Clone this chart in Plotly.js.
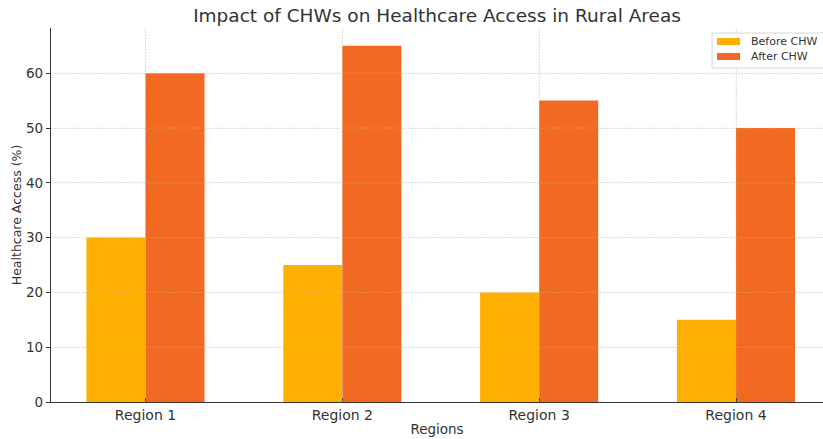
<!DOCTYPE html>
<html>
<head>
<meta charset="utf-8">
<script src="https://cdn.plot.ly/plotly-3.0.1.min.js"></script>
<style>
  html, body { margin: 0; padding: 0; background: #fff; }
  #chart { width: 823px; height: 439px; }
</style>
</head>
<body>
<div id="chart"></div>
<script>
// Healthcare access before and after Community Health Workers, by region
const regions = ["Region 1", "Region 2", "Region 3", "Region 4"];
const beforeCHW = [30, 25, 20, 15];
const afterCHW = [60, 65, 55, 50];
const yTicks = [0, 10, 20, 30, 40, 50, 60];
const seriesNames = ["Before CHW", "After CHW"];
const seriesColors = ["#FFAF00", "#F26A22"];

const FONT = "DejaVu Sans, Verdana, sans-serif";
const TEXT = "#333333";
const GRID = "#dcdcdc";

const W = 823, H = 439;
const M = { l: 51, r: 0, t: 28, b: 37 };
const plotW = W - M.l - M.r, plotH = H - M.t - M.b;
// pixel -> paper helpers for the hand-drawn legend box
const px = v => (v - M.l) / plotW;
const py = v => (H - M.b - v) / plotH;

const traces = [
  { type: "bar", name: seriesNames[0], x: regions, y: beforeCHW,
    marker: { color: seriesColors[0], line: { width: 0 } } },
  { type: "bar", name: seriesNames[1], x: regions, y: afterCHW,
    marker: { color: seriesColors[1], line: { width: 0 } } }
];

// dotted grid drawn on top of the bars (faint)
const overGrid = { color: "rgba(205,205,205,0.4)", width: 0.8, dash: "2px,1px" };
const shapes = [];
yTicks.slice(1).forEach(v => shapes.push({
  type: "line", layer: "above", xref: "paper", yref: "y",
  x0: 0, x1: 1, y0: v, y1: v, line: overGrid
}));
regions.forEach(r => shapes.push({
  type: "line", layer: "above", xref: "x", yref: "paper",
  x0: r, x1: r, y0: 0, y1: 1, line: overGrid
}));

// legend box
shapes.push({
  type: "rect", layer: "above", xref: "paper", yref: "paper",
  x0: px(712), x1: px(830), y0: py(68), y1: py(33),
  fillcolor: "rgba(255,255,255,0.8)",
  line: { color: "#d6d6d6", width: 1 }
});
const annotations = [];
seriesNames.forEach((name, i) => {
  const cy = 41.5 + i * 15;
  shapes.push({
    type: "rect", layer: "above", xref: "paper", yref: "paper",
    x0: px(717), x1: px(740), y0: py(cy + 3.5), y1: py(cy - 3.5),
    fillcolor: seriesColors[i], line: { width: 0 }
  });
  annotations.push({
    xref: "paper", yref: "paper", x: px(749), y: py(cy),
    xanchor: "left", yanchor: "middle", showarrow: false,
    text: name, font: { family: FONT, size: 11, color: TEXT }
  });
});

const gridAxis = {
  showline: true,
  linecolor: "#333333",
  linewidth: 1.2,
  tickcolor: "#333333",
  ticklen: 4,
  showgrid: true,
  gridcolor: GRID,
  griddash: "2px,1px",
  gridwidth: 0.8,
  zeroline: false,
  fixedrange: true
};

const layout = {
  width: W,
  height: H,
  margin: M,
  paper_bgcolor: "#ffffff",
  plot_bgcolor: "#ffffff",
  font: { family: FONT, color: TEXT, size: 13 },
  barmode: "group",
  bargap: 0.4,
  bargroupgap: 0,
  showlegend: false,
  title: {
    text: "Impact of CHWs on Healthcare Access in Rural Areas",
    font: { family: FONT, size: 18.5, color: TEXT },
    x: 0.5, xref: "paper", xanchor: "center",
    y: 1 - 16 / H, yref: "container", yanchor: "middle"
  },
  xaxis: Object.assign({}, gridAxis, {
    type: "category",
    range: [-0.48, 3.442],
    ticks: "inside",
    tickfont: { size: 14, color: TEXT },
    title: { text: "Regions", font: { size: 13.5, color: TEXT }, standoff: 2 }
  }),
  yaxis: Object.assign({}, gridAxis, {
    range: [0, 68.25],
    tickvals: yTicks,
    ticks: "outside",
    tickfont: { size: 13.5, color: TEXT },
    title: { text: "Healthcare Access (%)", font: { size: 12.5, color: TEXT }, standoff: 1 }
  }),
  shapes: shapes,
  annotations: annotations
};

Plotly.newPlot("chart", traces, layout, { displayModeBar: false, staticPlot: true });
</script>
</body>
</html>
